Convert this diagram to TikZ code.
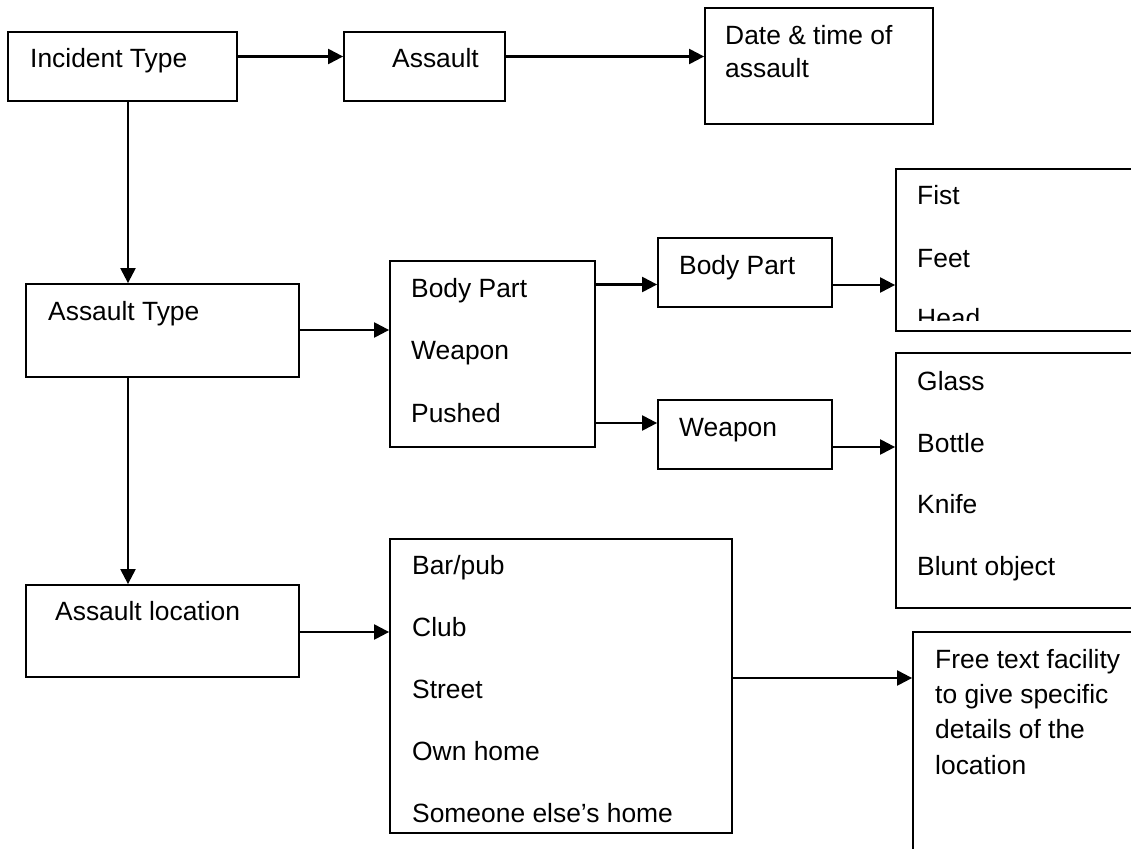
\documentclass[tikz,border=0pt]{standalone}
\usepackage{fontspec}
\setmainfont{Liberation Sans}
\usetikzlibrary{arrows.meta}
\begin{document}
\begin{tikzpicture}[x=1pt,y=-1pt,
  box/.style={draw=black,line width=1.8pt,rectangle,inner sep=0pt,fill=none},
  arr/.style={line width=2.2pt,-{Triangle[length=15pt,width=15pt]}},
  txt/.style={inner sep=0pt,anchor=base west,font=\fontsize{26.4}{33}\selectfont}]
\useasboundingbox (0,0) rectangle (1131,848);
\clip (0,0) rectangle (1131,848);
\fill[white] (0,0) rectangle (1131,848);
% boxes
\node[box,minimum width=229pt,minimum height=69pt] (inc) at (122.5,66.5) {};
\node[box,minimum width=161pt,minimum height=69pt] (asl) at (424.5,66.5) {};
\node[box,minimum width=228pt,minimum height=116pt] (date) at (819,66) {};
\node[box,minimum width=273pt,minimum height=93pt] (atype) at (162.5,330.5) {};
\node[box,minimum width=205pt,minimum height=186pt] (mid) at (492.5,354) {};
\node[box,minimum width=174pt,minimum height=69pt] (bp) at (745,272.5) {};
\node[box,minimum width=174pt,minimum height=69pt] (wp) at (745,434.5) {};
\node[box,minimum width=254pt,minimum height=162pt] (fist) at (1023,250) {};
\node[box,minimum width=254pt,minimum height=255pt] (glass) at (1023,480.5) {};
\node[box,minimum width=273pt,minimum height=92pt] (aloc) at (162.5,631) {};
\node[box,minimum width=342pt,minimum height=294pt] (locs) at (561,686) {};
\node[box,minimum width=237pt,minimum height=238pt] (free) at (1031.5,751) {};
% texts
\node[txt] (tinc) at (30,68) {Incident Type};
\node[txt] (tasl) at (392,68) {Assault};
\node[txt] (tdate1) at (725,45) {Date \& time of};
\node[txt] (tdate2) at (725,78) {assault};
\node[txt] (tatype) at (48,320) {Assault Type};
\node[txt] (tm1) at (411,297) {Body Part};
\node[txt] (tm2) at (411,359) {Weapon};
\node[txt] (tm3) at (411,422) {Pushed};
\node[txt] (tbp) at (679,274) {Body Part};
\node[txt] (twp) at (679,436) {Weapon};
\node[txt] (tf1) at (917,204) {Fist};
\node[txt] (tf2) at (917,267) {Feet};
\begin{scope}
\clip (896,169) rectangle (1131,320);
\node[txt] (tf3) at (917,327) {Head};
\end{scope}
\node[txt] (tg1) at (917,390) {Glass};
\node[txt] (tg2) at (917,452) {Bottle};
\node[txt] (tg3) at (917,513) {Knife};
\node[txt] (tg4) at (917,575) {Blunt object};
\node[txt] (taloc) at (55,620) {Assault location};
\node[txt] (tl1) at (412,574) {Bar/pub};
\node[txt] (tl2) at (412,636) {Club};
\node[txt] (tl3) at (412,698) {Street};
\node[txt] (tl4) at (412,760) {Own home};
\node[txt] (tl5) at (412,822) {Someone else’s home};
\node[txt] (tfr1) at (935,668) {Free text facility};
\node[txt] (tfr2) at (935,703) {to give specific};
\node[txt] (tfr3) at (935,738) {details of the};
\node[txt] (tfr4) at (935,774) {location};
% connectors
\draw[arr] (inc.east |- 0,56.5) -- (asl.west |- 0,56.5);
\draw[arr] (asl.east |- 0,56.5) -- (date.west |- 0,56.5);
\draw[arr] (128,0 |- inc.south) -- (128,0 |- atype.north);
\draw[arr] (atype.east |- 0,330) -- (mid.west |- 0,330);
\draw[arr] (128,0 |- atype.south) -- (128,0 |- aloc.north);
\draw[arr] (mid.east |- 0,284.5) -- (bp.west |- 0,284.5);
\draw[arr] (mid.east |- 0,423) -- (wp.west |- 0,423);
\draw[arr] (bp.east |- 0,285) -- (fist.west |- 0,285);
\draw[arr] (wp.east |- 0,447) -- (glass.west |- 0,447);
\draw[arr] (aloc.east |- 0,632) -- (locs.west |- 0,632);
\draw[arr] (locs.east |- 0,678) -- (free.west |- 0,678);
\end{tikzpicture}
\end{document}
